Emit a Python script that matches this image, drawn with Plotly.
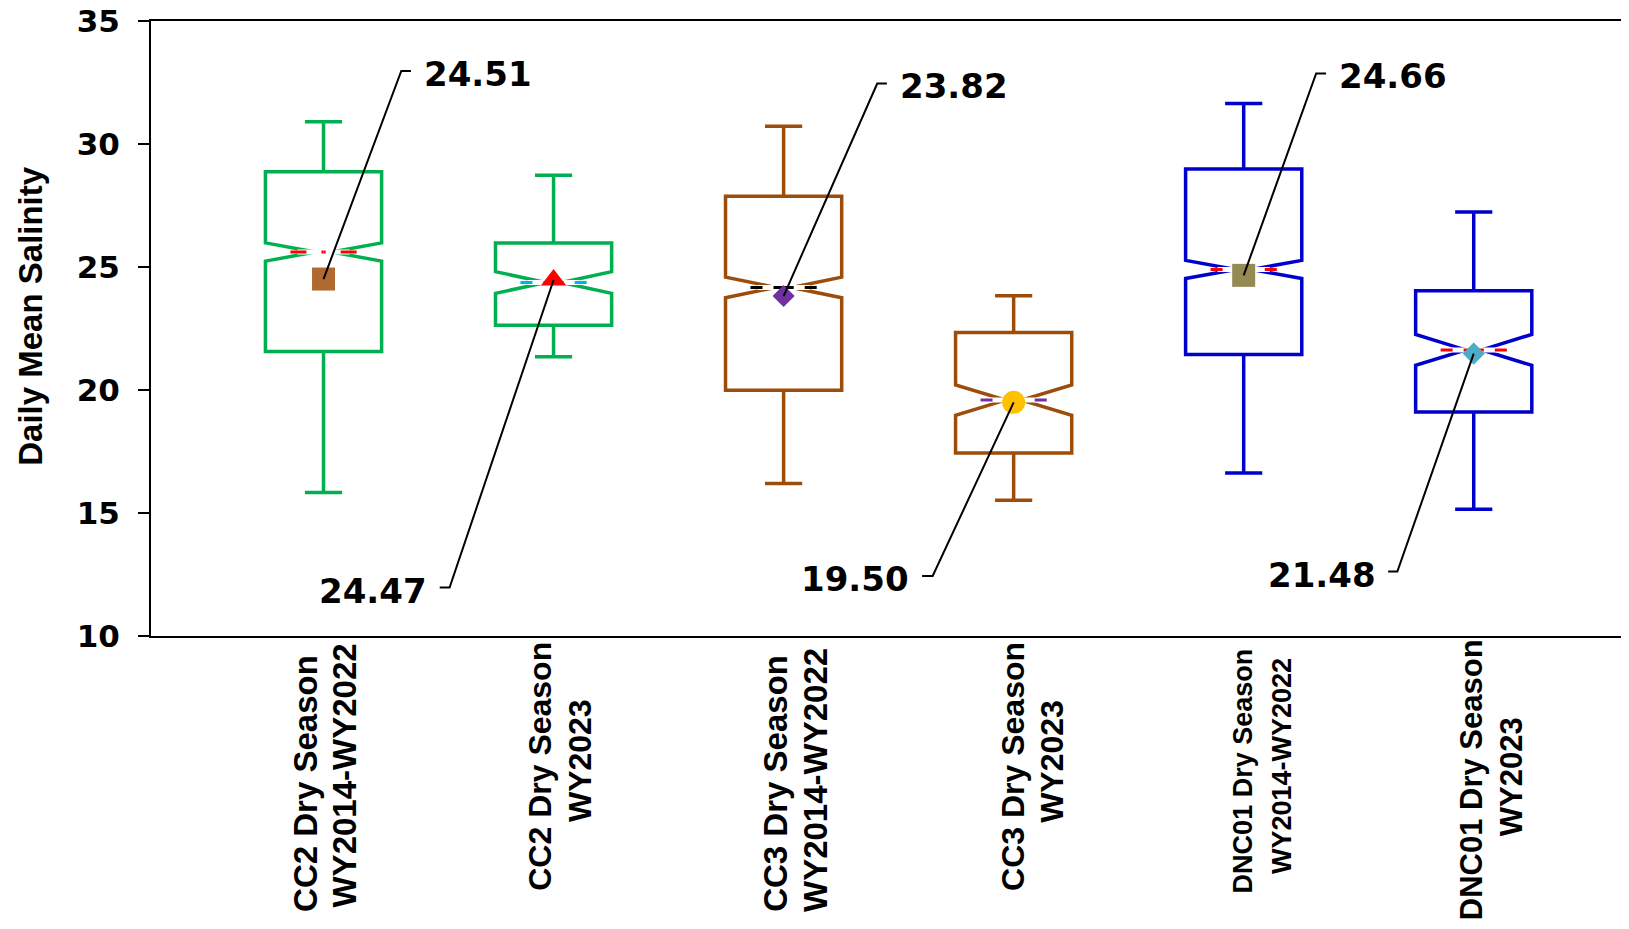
import plotly.graph_objects as go

# ---------------- data ----------------
label_line1 = ["CC2 Dry Season", "CC2 Dry Season", "CC3 Dry Season",
               "CC3 Dry Season", "DNC01 Dry Season", "DNC01 Dry Season"]
label_line2 = ["WY2014-WY2022", "WY2023", "WY2014-WY2022",
               "WY2023", "WY2014-WY2022", "WY2023"]
lower_whisker = [15.83, 21.35, 16.20, 15.52, 16.63, 15.15]
q1_values = [21.57, 22.63, 19.99, 17.44, 21.44, 19.11]
median_values = [25.61, 24.37, 24.17, 19.59, 24.90, 21.63]
q3_values = [28.87, 25.98, 27.88, 22.34, 28.98, 24.03]
upper_whisker = [30.90, 28.73, 30.72, 23.83, 31.65, 27.24]
notch_half = [0.37, 0.44, 0.42, 0.62, 0.37, 0.63]
mean_values = [24.51, 24.47, 23.82, 19.50, 24.66, 21.48]
y_ticks = [10, 15, 20, 25, 30, 35]

# ---------------- styles ----------------
box_colors = ["#00B050", "#00B050", "#9C4D0A", "#9C4D0A", "#0000CC", "#0000CC"]
median_colors = ["#FF0000", "#00B0F0", "#000000", "#7030A0", "#FF0000", "#FF0000"]
median_dash = ["16px,15px", "12px,11px", "12px,11px", "12px,11px", "12px,11px", "12px,11px"]
mean_symbols = ["square", "triangle-up", "diamond", "circle", "square", "diamond"]
mean_colors = ["#B0692F", "#FF0000", "#7030A0", "#FFC000", "#948A54", "#4BACC6"]
mean_sizes = [23, 22, 17, 23, 23, 17]
# callout layout: elbow corner / elbow end / text offset (category units), label level (y units)
call_corner = [0.338, -0.452, 0.407, -0.352, 0.315, -0.332]
call_end = [0.380, -0.495, 0.449, -0.398, 0.358, -0.372]
call_text = [0.428, -0.542, 0.497, -0.446, 0.405, -0.416]
call_level = [32.97, 11.97, 32.46, 12.44, 32.87, 12.62]
# axis category labels layout (window pixel centres)
lab_size = [33, 32, 33, 32, 27, 31]
lab1_shift = [-18.6, -13.8, -8.8, -0.7, -0.3, -2.5]
lab2_shift = [21.0, 26.5, 31.4, 38.2, 38.4, 37.5]
lab1_ypx = [783, 766, 783, 766, 771, 780]
lab2_ypx = [776, 761, 780, 761, 766, 777]

OFF = 8  # page body margin
W, H = 1629 - OFF, 929 - OFF
ML, MR, MT = 151 - OFF, 0, 21 - OFF
PLOT_BOTTOM = 636 - OFF
MB = H - PLOT_BOTTOM
plot_h = PLOT_BOTTOM - MT


def paper_y(win_px):
    return (PLOT_BOTTOM - (win_px - OFF)) / plot_h


fig = go.Figure()
n = len(mean_values)
hw = 0.505 / 2 * (1 - 0.43)

for i in range(n):
    fig.add_trace(go.Box(
        x=[i], q1=[q1_values[i]], median=[median_values[i]], q3=[q3_values[i]],
        lowerfence=[lower_whisker[i]], upperfence=[upper_whisker[i]],
        notched=True, notchspan=[notch_half[i]], notchwidth=0.43,
        width=0.505, whiskerwidth=0.32,
        line=dict(color=box_colors[i], width=3.5),
        fillcolor="rgba(255,255,255,0)", boxpoints=False,
        showlegend=False, hoverinfo="skip"))

for i in range(n):
    # hide the solid median segment drawn by the box, then draw dashed median
    fig.add_trace(go.Scatter(
        x=[i - hw + 0.03, i + hw - 0.03], y=[median_values[i]] * 2, mode="lines",
        line=dict(color="white", width=5), showlegend=False, hoverinfo="skip"))
    for side in (-1, 1):
        fig.add_trace(go.Scatter(
            x=[i + side * hw, i], y=[median_values[i]] * 2, mode="lines",
            line=dict(color=median_colors[i], width=3, dash=median_dash[i]),
            showlegend=False, hoverinfo="skip"))

for i in range(n):
    fig.add_trace(go.Scatter(
        x=[i], y=[mean_values[i]], mode="markers",
        marker=dict(symbol=mean_symbols[i], color=mean_colors[i], size=mean_sizes[i],
                    line=dict(width=0)),
        showlegend=False, hoverinfo="skip"))

for i in range(n):
    fig.add_trace(go.Scatter(
        x=[i, i + call_corner[i], i + call_end[i]],
        y=[mean_values[i], call_level[i], call_level[i]], mode="lines",
        line=dict(color="black", width=2), showlegend=False, hoverinfo="skip"))
    fig.add_annotation(
        x=i + call_text[i], y=call_level[i], xref="x", yref="y",
        text=f"{mean_values[i]:.2f}", showarrow=False,
        xanchor="left" if call_text[i] > 0 else "right", yanchor="middle",
        yshift=-3,
        font=dict(family="DejaVu Sans", size=34, color="black", weight="bold"))

for i in range(n):
    for txt, sh, ypx in ((label_line1[i], lab1_shift[i], lab1_ypx[i]),
                         (label_line2[i], lab2_shift[i], lab2_ypx[i])):
        fig.add_annotation(
            x=i, xref="x", y=paper_y(ypx), yref="paper",
            xshift=sh, text=txt, showarrow=False, textangle=-90,
            xanchor="center", yanchor="middle",
            font=dict(family="Liberation Sans", size=lab_size[i], color="black",
                      weight="bold"))

fig.add_annotation(
    x=(30.8 - 151) / (1629 - 151), xref="paper", y=paper_y(316), yref="paper",
    text="Daily Mean Salinity", showarrow=False, textangle=-90,
    xanchor="center", yanchor="middle",
    font=dict(family="Liberation Sans", size=33, color="black", weight="bold"))

fig.update_layout(
    width=W, height=H,
    margin=dict(l=ML, r=MR, t=MT, b=MB, autoexpand=False),
    paper_bgcolor="white", plot_bgcolor="white",
    boxmode="overlay", showlegend=False,
    xaxis=dict(range=[-0.75, 5.675], showline=True, linecolor="black", linewidth=2,
               mirror=True, showgrid=False, zeroline=False, showticklabels=False,
               ticks="", automargin=False),
    yaxis=dict(range=[10, 35], tickvals=y_ticks, ticks="outside", ticklen=11,
               tickwidth=2, tickcolor="black", showline=True, linecolor="black",
               linewidth=2, showgrid=False, zeroline=False, ticklabelstandoff=12,
               ticklabeloverflow="allow", automargin=False,
               tickfont=dict(family="DejaVu Sans", size=31, color="black",
                             weight="bold")),
)

fig.write_html("out.html")
